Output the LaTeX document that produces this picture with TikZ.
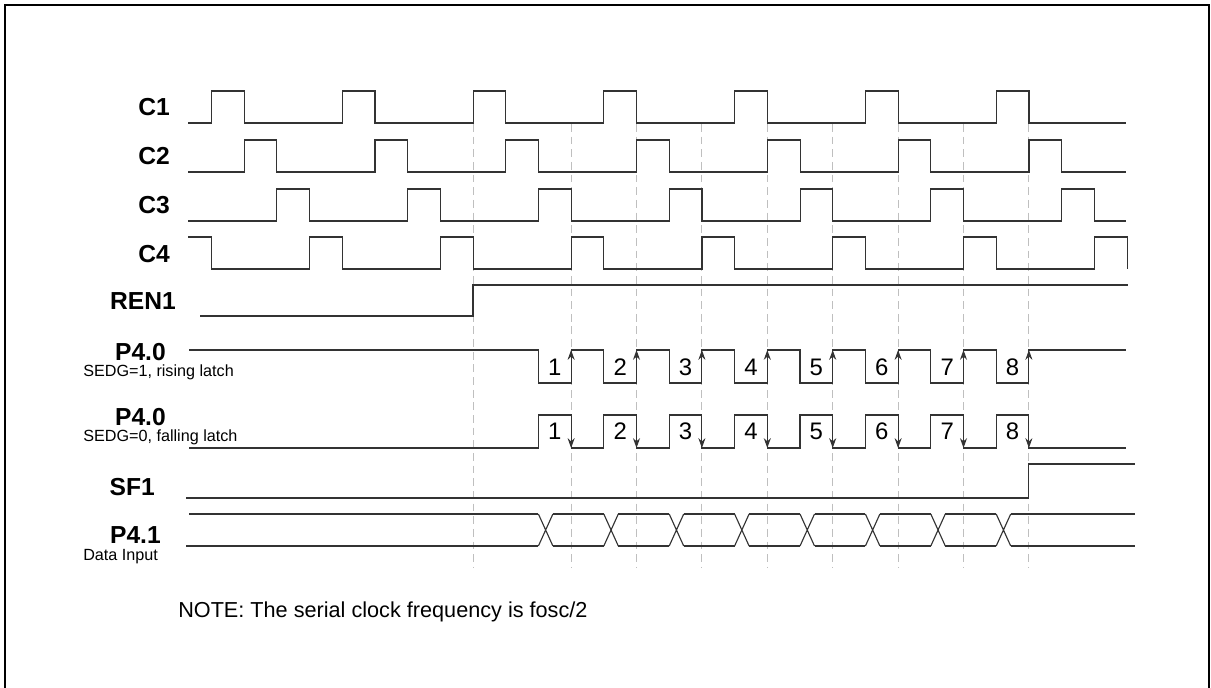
\documentclass[tikz,border=0pt]{standalone}
\usepackage{fontspec}
\setmainfont{Liberation Sans}
\usetikzlibrary{arrows.meta}
\tikzset{
  wave/.style={line width=0.8pt, black!80},
  guide/.style={line width=0.7pt, black!25, dash pattern=on 5.5pt off 3.5pt},
  siglabel/.style={font=\bfseries\fontsize{17.5}{20}\selectfont, anchor=east, inner sep=0pt},
  sublabel/.style={font=\fontsize{11.5}{13}\selectfont, anchor=west, inner sep=0pt},
  bitnum/.style={font=\fontsize{17}{20}\selectfont, inner sep=0pt},
  latch/.style={wave, -{Stealth[length=7pt,width=5pt]}}
}
\def\q{32.7}   % one phase
\def\tz{211.5} % first C1 rise
\def\tren{473} % REN1 rise
\def\w{14.5}   % data crossing

\begin{document}
\begin{tikzpicture}[x=0.025cm, y=-0.025cm]
\useasboundingbox (0,0) rectangle (1211,688);
%frame
\draw[line width=1.4pt] (5,688) -- (5,5) -- (1209,5) -- (1209,688);

%guides
\draw[guide] (\tren,124) -- (\tren,568);
\foreach \i in {1,...,8}
  \draw[guide] ({\tren+(2*\i+1)*\q},124) -- ({\tren+(2*\i+1)*\q},568);

%C1
\node[siglabel] (c1-label) at (170,107) {C1};
\draw[wave] (188,123) \foreach \k in {0,...,6}{ -- ({\tz+\k*4*\q},123) -- ++(0,-32) -- ++(\q,0) -- ++(0,32)} -- (1126,123);
%C2
\node[siglabel] (c2-label) at (170,156) {C2};
\draw[wave] (188,172) \foreach \k in {0,...,6}{ -- ({\tz+(\k*4+1)*\q},172) -- ++(0,-32) -- ++(\q,0) -- ++(0,32)} -- (1126,172);
%C3
\node[siglabel] (c3-label) at (170,205) {C3};
\draw[wave] (188,221) \foreach \k in {0,...,6}{ -- ({\tz+(\k*4+2)*\q},221) -- ++(0,-32) -- ++(\q,0) -- ++(0,32)} -- (1126,221);
%C4
\node[siglabel] (c4-label) at (170,254) {C4};
\draw[wave] (188,237) -- (\tz,237) -- (\tz,269) \foreach \k in {0,...,6}{ -- ({\tz+(\k*4+3)*\q},269) -- ++(0,-32) -- ++(\q,0) -- ++(0,32)};

%REN1
\node[siglabel] (ren1-label) at (176,301) {REN1};
\draw[wave] (200,316) -- (\tren,316) -- (\tren,285) -- (1128,285);

%P4.0 rising latch
\node[siglabel] (p40r-label) at (166,352) {P4.0};
\node[sublabel] (sedg1-label) at (83,372) {SEDG=1, rising latch};
\draw[wave] (189,350) \foreach \i in {1,...,8}{ -- ({\tren+2*\i*\q},350) -- ++(0,33) -- ++(\q,0) -- ++(0,-33)} -- (1126,350);
\foreach \i in {1,...,8}{
  \draw[latch] ({\tren+(2*\i+1)*\q},383) -- ++(0,-33);
  \node[bitnum] (rise-bit\i) at ({\tren+(2*\i+0.5)*\q},367) {\i};
}

%P4.0 falling latch
\node[siglabel] (p40f-label) at (166,417) {P4.0};
\node[sublabel] (sedg0-label) at (83,437) {SEDG=0, falling latch};
\draw[wave] (189,448) \foreach \i in {1,...,8}{ -- ({\tren+2*\i*\q},448) -- ++(0,-33) -- ++(\q,0) -- ++(0,33)} -- (1126,448);
\foreach \i in {1,...,8}{
  \draw[latch] ({\tren+(2*\i+1)*\q},415) -- ++(0,33);
  \node[bitnum] (fall-bit\i) at ({\tren+(2*\i+0.5)*\q},431) {\i};
}

%SF1
\node[siglabel] (sf1-label) at (155,487) {SF1};
\draw[wave] (186,498) -- ({\tren+17*\q},498) -- ++(0,-34) -- (1135,464);

%P4.1
\node[siglabel] (p41-label) at (161,535) {P4.1};
\node[sublabel] (data-label) at (83,557) {Data Input};
\draw[wave] (189,514) -- ({\tren+2*\q},514);
\draw[wave] (186,546) -- ({\tren+2*\q},546);
\foreach \i in {1,...,8}
  \draw[wave] ({\tren+2*\i*\q},514) -- ++(\w,32) ({\tren+2*\i*\q},546) -- ++(\w,-32);
\foreach \i in {1,...,7}
  \draw[wave] ({\tren+2*\i*\q+\w},514) -- ({\tren+2*(\i+1)*\q},514) ({\tren+2*\i*\q+\w},546) -- ({\tren+2*(\i+1)*\q},546);
\draw[wave] ({\tren+16*\q+\w},514) -- (1135,514) ({\tren+16*\q+\w},546) -- (1135,546);

%note
\node[anchor=west, font=\fontsize{15.4}{18}\selectfont, inner sep=0pt] (note) at (178,612) {NOTE: The serial clock frequency is fosc/2};
\end{tikzpicture}
\end{document}
